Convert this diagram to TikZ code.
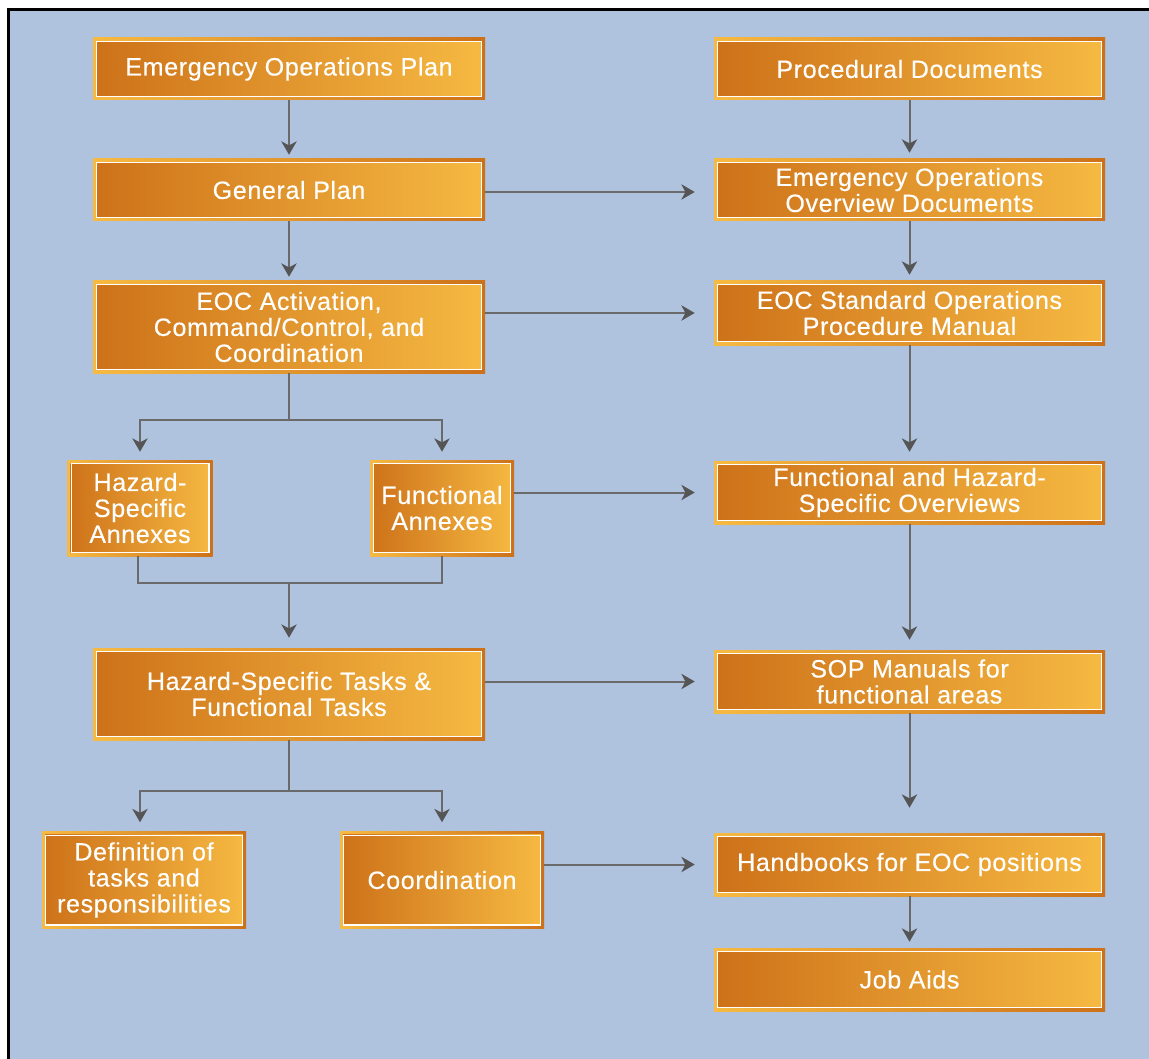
\documentclass[tikz,border=0pt]{standalone}
\usepackage{fontspec}
\setmainfont{Liberation Sans}[LetterSpace=2.5,FakeBold=0.3]
\usetikzlibrary{arrows.meta}
\definecolor{bg}{HTML}{AFC2DE}
\definecolor{od}{HTML}{CD7119}
\definecolor{ol}{HTML}{F6BA42}
\definecolor{ln}{HTML}{6A6A6A}
\definecolor{ah}{HTML}{555555}
\tikzset{
  box/.style 2 args={rectangle, inner sep=0pt, minimum width=#1*0.75pt, minimum height=#2*0.75pt,
    left color=ol, right color=od, text=white, align=center,
    font=\fontsize{18.8}{19.5}\selectfont,
    path picture={
      \shade[left color=od,right color=ol]
        ([shift={(2.4pt,-2.4pt)}]path picture bounding box.north west) rectangle
        ([shift={(-2.4pt,2.4pt)}]path picture bounding box.south east);
      \draw[white,line width=1.1pt]
        ([shift={(2.8pt,-2.8pt)}]path picture bounding box.north west) rectangle
        ([shift={(-2.8pt,2.8pt)}]path picture bounding box.south east);
    }},
  conn/.style={draw=ln, line width=1.5pt},
  arr/.style={conn, -{Stealth[length=10pt,width=11.5pt,inset=3pt,fill=ah,color=ah]}},
  sh/.style={shorten >=#1*0.75pt}
}
\begin{document}
\begin{tikzpicture}[x=0.75pt,y=-0.75pt]
\useasboundingbox (0,0) rectangle (1149,1059);
\fill[white] (0,0) rectangle (1149,1059);
\fill[black] (7,8) rectangle (1149,1059);
\fill[bg] (10,11) rectangle (1149,1059);

% left column
\node[box={392}{62}] (eop) at (289,69) {Emergency Operations Plan};
\node[box={392}{62}] (gp) at (289,190) {General Plan};
\node[box={392}{92}] (eoc) at (289,327) {EOC Activation,\\Command/Control, and\\Coordination};
\node[box={145}{96}] (haz) at (140,508) {Hazard-\\Specific\\Annexes};
\node[box={144}{96}] (fun) at (442,508) {Functional\\Annexes};
\node[box={392}{92}] (tasks) at (289,694) {Hazard-Specific Tasks \&\\Functional Tasks};
\node[box={204}{97}] (def) at (144,880) {Definition of\\tasks and\\responsibilities};
\node[box={204}{97}] (coord) at (442,880) {Coordination};

% right column
\node[box={391}{62}] (r1) at (909.5,69) {Procedural Documents};
\node[box={391}{62}] (r2) at (909.5,190) {Emergency Operations\\Overview Documents};
\node[box={391}{64}] (r3) at (909.5,313) {EOC Standard Operations\\Procedure Manual};
\node[box={391}{63}] (r4) at (909.5,492.5) {Functional and Hazard-\\Specific Overviews};
\node[box={391}{63}] (r5) at (909.5,681.5) {SOP Manuals for\\functional areas};
\node[box={391}{63}] (r6) at (909.5,864.5) {Handbooks for EOC positions};
\node[box={391}{63}] (r7) at (909.5,979.5) {Job Aids};

% branch points
\coordinate (b1) at (289,420);
\coordinate (m1) at (289,583);
\coordinate (b2) at (289,791);

% left vertical connectors
\draw[arr,sh=4] (eop) -- (gp);
\draw[arr,sh=4] (gp) -- (eoc);
\draw[conn] (eoc.south) -- (b1);
\draw[arr,sh=8] (b1) -| (haz.north);
\draw[arr,sh=8] (b1) -| (fun.north);
\draw[conn] ([xshift=-1.5pt]haz.south) |- (m1) -| (fun.south);
\draw[arr,sh=10] (m1) -- (tasks.north);
\draw[conn] (tasks.south) -- (b2);
\draw[arr,sh=9] (b2) -| ([xshift=-3pt]def.north);
\draw[arr,sh=9] (b2) -| (coord.north);

% horizontal connectors
\draw[arr,sh=19] ([yshift=-1.5pt]gp.east) -- ([yshift=-1.5pt]r2.west);
\draw[arr,sh=19] (eoc.east |- r3.west) -- (r3.west);
\draw[arr,sh=19] (fun.east |- r4.west) -- (r4.west);
\draw[arr,sh=19] (tasks.east |- r5.west) -- (r5.west);
\draw[arr,sh=19] (coord.east |- r6.west) -- (r6.west);

% right vertical connectors
\draw[arr,sh=6] (r1) -- (r2);
\draw[arr,sh=6] (r2) -- (r3);
\draw[arr,sh=9] (r3) -- (r4);
\draw[arr,sh=10] (r4) -- (r5);
\draw[arr,sh=25] (r5) -- (r6);
\draw[arr,sh=6] (r6) -- (r7);
\end{tikzpicture}
\end{document}
